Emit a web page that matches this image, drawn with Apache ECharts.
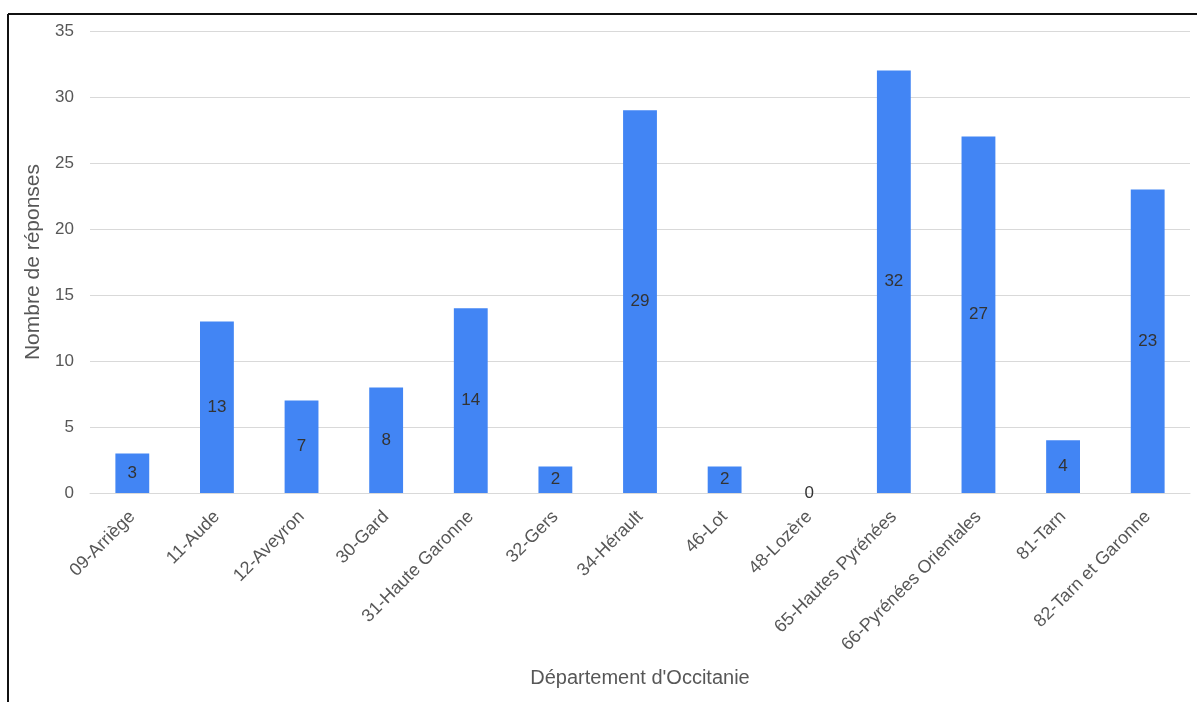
<!DOCTYPE html>
<html>
<head>
<meta charset="utf-8">
<script src="https://cdn.jsdelivr.net/npm/echarts@6/dist/echarts.min.js"></script>
<style>
  html, body { margin: 0; padding: 0; background: #fff; }
  #chart { width: 1197px; height: 702px; }
</style>
</head>
<body>
<div id="chart"></div>
<script>
// Réponses par département d'Occitanie
const departements = [
  '09-Arriège', '11-Aude', '12-Aveyron', '30-Gard', '31-Haute Garonne',
  '32-Gers', '34-Hérault', '46-Lot', '48-Lozère', '65-Hautes Pyrénées',
  '66-Pyrénées Orientales', '81-Tarn', '82-Tarn et Garonne'
];
const reponses = [3, 13, 7, 8, 14, 2, 29, 2, 0, 32, 27, 4, 23];

const chart = echarts.init(document.getElementById('chart'), null, { renderer: 'canvas' });

const textColor = '#575757';
const fontFamily = 'Liberation Sans, Arial, sans-serif';

chart.setOption({
  animation: false,
  backgroundColor: '#ffffff',
  textStyle: { fontFamily: fontFamily },
  graphic: [
    // cadre autour du graphique (haut et gauche)
    { type: 'line', shape: { x1: 8, y1: 14, x2: 1197, y2: 14 }, style: { stroke: '#111', lineWidth: 2 } },
    { type: 'line', shape: { x1: 8, y1: 14, x2: 8, y2: 702 }, style: { stroke: '#111', lineWidth: 2 } }
  ],
  grid: { left: 90, right: 7, top: 31, bottom: 209 },
  xAxis: {
    type: 'category',
    data: departements,
    name: "Département d'Occitanie",
    nameLocation: 'middle',
    nameGap: 175,
    nameTextStyle: { color: textColor, fontSize: 20, fontFamily: fontFamily },
    axisLine: { show: true, lineStyle: { color: '#d9d9d9', width: 1 } },
    axisTick: { show: false },
    axisLabel: { rotate: 45, color: textColor, fontSize: 18, margin: 21, interval: 0, fontFamily: fontFamily }
  },
  yAxis: {
    type: 'value',
    min: 0, max: 35, interval: 5,
    name: 'Nombre de réponses',
    nameLocation: 'middle',
    nameGap: 46,
    nameTextStyle: { color: textColor, fontSize: 21, fontFamily: fontFamily },
    axisLine: { show: false },
    axisTick: { show: false },
    axisLabel: { color: textColor, fontSize: 17, margin: 16, fontFamily: fontFamily },
    splitLine: { lineStyle: { color: '#d9d9d9', width: 1 } }
  },
  series: [{
    type: 'bar',
    data: reponses,
    barWidth: '40%',
    itemStyle: { color: '#4285f4' },
    label: {
      show: true,
      position: 'inside',
      color: '#333333',
      fontSize: 17,
      fontFamily: fontFamily
    }
  }]
});
</script>
</body>
</html>
